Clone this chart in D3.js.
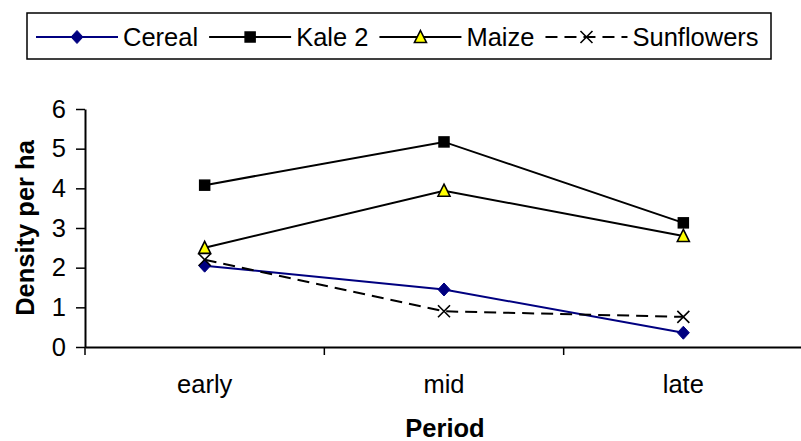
<!DOCTYPE html>
<html>
<head>
<meta charset="utf-8">
<script src="https://cdn.jsdelivr.net/npm/d3@7"></script>
<style>
  body { margin: 0; background: #fff; }
  svg { display: block; font-family: "Liberation Sans", Arial, sans-serif; }
</style>
</head>
<body>
<div id="chart"></div>
<script>
var periods = ["early", "mid", "late"];
var seriesNames = ["Cereal", "Kale 2", "Maize", "Sunflowers"];
var cereal = [2.05, 1.45, 0.36];
var kale2 = [4.08, 5.17, 3.13];
var maize = [2.5, 3.94, 2.8];
var sunflowers = [2.2, 0.9, 0.76];
var yTicks = [0, 1, 2, 3, 4, 5, 6];

var series = [
    { name: seriesNames[0], values: cereal, color: "#000080", dash: null, marker: "diamond" },
    { name: seriesNames[1], values: kale2, color: "#000000", dash: null, marker: "square" },
    { name: seriesNames[2], values: maize, color: "#000000", dash: null, marker: "triangle" },
    { name: seriesNames[3], values: sunflowers, color: "#000000", dash: "12,7", marker: "cross" }
];

var width = 801, height = 441;
var fontSize = 25.5;
var svg = d3.select("#chart").append("svg").attr("width", width).attr("height", height);

var x = d3.scaleBand().domain(periods).range([85, 803]);
var y = d3.scaleLinear().domain([0, 6]).range([347, 109]);

function drawMarker(sel, type, color) {
    if (type == "diamond") {
        sel.append("path").attr("d", "M0,-6.5L6,0L0,6.5L-6,0Z").attr("fill", color).attr("stroke", color);
    } else if (type == "square") {
        sel.append("rect").attr("x", -5).attr("y", -5).attr("width", 10).attr("height", 10)
            .attr("fill", "#000").attr("stroke", "#000").attr("stroke-width", 1.5);
    } else if (type == "triangle") {
        sel.append("path").attr("d", "M0,-6.5L6,5.5L-6,5.5Z")
            .attr("fill", "#ffff00").attr("stroke", "#000").attr("stroke-width", 1.6);
    } else if (type == "cross") {
        sel.append("path").attr("d", "M-6,-6L6,6M-6,6L6,-6")
            .attr("fill", "none").attr("stroke", "#000").attr("stroke-width", 1.6);
    }
}

// y axis
var yAxis = d3.axisLeft(y).tickValues(yTicks).tickFormat(d3.format("d"))
    .tickSize(9).tickPadding(10).tickSizeOuter(0);
var gy = svg.append("g").attr("transform", "translate(85,0)").call(yAxis);
gy.attr("font-size", null).attr("font-family", null);
gy.select(".domain").attr("stroke-width", 2);
gy.selectAll(".tick line").attr("stroke-width", 1.5);
gy.selectAll("text").attr("font-size", fontSize).attr("fill", "#000");

// x axis
var xAxis = d3.axisBottom(x).tickSize(0).tickPadding(28);
var gx = svg.append("g").attr("transform", "translate(0,347)").call(xAxis);
gx.attr("font-size", null).attr("font-family", null);
gx.select(".domain").attr("stroke-width", 2);
gx.selectAll("text").attr("font-size", fontSize).attr("fill", "#000");

var boundaries = periods.map(function (p) { return x(p); }).concat([x.range()[1]]);
svg.append("g").selectAll("line").data(boundaries).enter().append("line")
    .attr("x1", function (d) { return d; }).attr("x2", function (d) { return d; })
    .attr("y1", 347).attr("y2", 355)
    .attr("stroke", "#000").attr("stroke-width", 1.5);

// axis titles
svg.append("text").attr("x", 445).attr("y", 428).attr("dy", "0.35em")
    .attr("text-anchor", "middle").attr("font-size", fontSize).attr("font-weight", "bold").text("Period");
svg.append("text").attr("transform", "translate(25,228) rotate(-90)").attr("dy", "0.35em")
    .attr("text-anchor", "middle").attr("font-size", fontSize).attr("font-weight", "bold").text("Density per ha");

// series
var line = d3.line()
    .x(function (d, i) { return x(periods[i]) + x.bandwidth() / 2; })
    .y(function (d) { return y(d); });

series.forEach(function (s) {
    svg.append("path").datum(s.values)
        .attr("d", line)
        .attr("fill", "none")
        .attr("stroke", s.color)
        .attr("stroke-width", 2)
        .attr("stroke-dasharray", s.dash);
});
series.forEach(function (s) {
    s.values.forEach(function (v, i) {
        var g = svg.append("g").attr("transform", "translate(" + (x(periods[i]) + x.bandwidth() / 2) + "," + y(v) + ")");
        drawMarker(g, s.marker, s.color);
    });
});

// legend
var legend = svg.append("g");
legend.append("rect").attr("x", 27).attr("y", 13).attr("width", 744).attr("height", 46)
    .attr("fill", "#fff").attr("stroke", "#000").attr("stroke-width", 1.5);
var lx = 36, ly = 37;
series.forEach(function (s) {
    legend.append("line").attr("x1", lx).attr("x2", lx + 82).attr("y1", ly).attr("y2", ly)
        .attr("stroke", s.color).attr("stroke-width", 2).attr("stroke-dasharray", s.dash);
    drawMarker(legend.append("g").attr("transform", "translate(" + (lx + 41) + "," + ly + ")"), s.marker, s.color);
    var t = legend.append("text").attr("x", lx + 87).attr("y", ly).attr("dy", "0.35em")
        .attr("font-size", fontSize).text(s.name);
    lx = lx + 87 + t.node().getComputedTextLength() + 11;
});
</script>
</body>
</html>
